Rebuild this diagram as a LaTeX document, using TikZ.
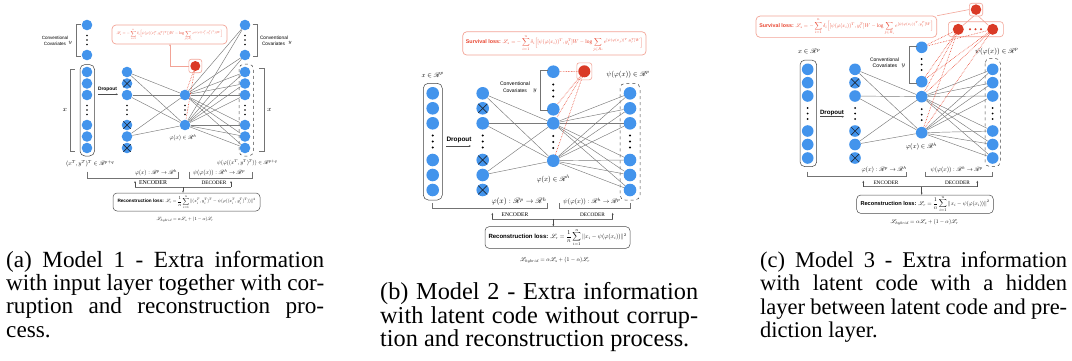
\documentclass[tikz,border=0pt]{standalone}
\usepackage{amsmath}
\usepackage{mathrsfs}
\usepackage{graphicx}
\usepackage{fontspec}
\setmainfont{Liberation Serif}
\newfontfamily\hel{Liberation Sans}
\usetikzlibrary{arrows.meta}
\definecolor{nblue}{HTML}{4394EC}
\definecolor{nred}{HTML}{DA3A26}
\definecolor{lred}{HTML}{E8442F}
\definecolor{lbox}{HTML}{F2A396}
\definecolor{xcol}{HTML}{1E2B3C}
\definecolor{lgray}{HTML}{7A7A7A}
\newcommand{\vdts}[4]{\foreach \k in {0,1,2}{\fill (#1,#2-#3+\k*#3) circle (#4pt);}}
\newcommand{\capJ}[5]{\node[inner sep=0pt,anchor=base west] at (#1,#2) {\fontsize{#3}{#3}\selectfont\makebox[#4pt][s]{#5}};}
\newcommand{\capN}[4]{\node[inner sep=0pt,anchor=base west] at (#1,#2) {\fontsize{#3}{#3}\selectfont #4};}
\newcommand{\fw}[2]{\resizebox{#1pt}{!}{#2}}
\newcommand{\survA}{$\displaystyle\mathscr{L}_s=-\sum_{i=1}^{n}\delta_i\Big[\psi(\varphi((x_i^T,y_i^T)^T))W-\log\sum_{j\in R_i}e^{\psi(\varphi((x_j^T,y_j^T)^T))W}\Big]$}
\newcommand{\survB}{{\hel\bfseries Survival loss:} $\displaystyle\mathscr{L}_s=-\sum_{i=1}^{n}\delta_i\Big[[\psi(\varphi(x_i))^T,y_i^T]W-\log\sum_{j\in R_i}e^{[\psi(\varphi(x_j))^T,y_j^T]W}\Big]$}
\newcommand{\recA}{{\hel\bfseries Reconstruction loss:} $\displaystyle\mathscr{L}_r=\frac{1}{n}\sum_{i=1}^{n}\|(x_i^T,y_i^T)^T-\psi(\varphi((x_i^T,y_i^T)^T))\|^2$}
\newcommand{\recB}{{\hel\bfseries Reconstruction loss:} $\displaystyle\mathscr{L}_r=\frac{1}{n}\sum_{i=1}^{n}\|x_i-\psi(\varphi(x_i))\|^2$}
\newcommand{\hyb}{$\mathscr{L}_{hybrid}=\alpha\mathscr{L}_s+(1-\alpha)\mathscr{L}_r$}
\tikzset{
 nd/.style={circle,fill=nblue,inner sep=0pt,minimum size=#1},
 xnd/.style={nd=#1,path picture={\draw[xcol,line width=0.7pt] (path picture bounding box.north west)--(path picture bounding box.south east) (path picture bounding box.north east)--(path picture bounding box.south west);}},
 rnd/.style={circle,fill=nred,inner sep=0pt,minimum size=#1},
 conn/.style={draw=lgray,line width=0.45pt},
 rdot/.style={draw=lred,densely dotted,line width=0.6pt},
 rline/.style={draw=lbox,line width=0.6pt},
 lossbox/.style={draw=lbox,rounded corners=4pt,line width=0.7pt,inner sep=0pt},
 rbox/.style={draw=lbox,rounded corners=2.5pt,line width=0.6pt,inner sep=0pt},
 recbox/.style={draw=black!70,rounded corners=4pt,line width=0.5pt,inner sep=0pt},
 brk/.style={draw=black!55,line width=0.5pt},
 inbox/.style={draw=black!75,rounded corners=5pt,line width=0.5pt},
 outbox/.style={draw=black!75,dashed,rounded corners=5pt,line width=0.5pt},
 tn/.style={inner sep=0pt,outer sep=0pt},
 tip/.style={-{Stealth[length=2.2pt,width=1.8pt]},draw=black!70,line width=0.45pt},
 rtip/.style={-{Stealth[length=2.2pt,width=1.8pt]},draw=lbox,line width=0.6pt},
}
\begin{document}
\begin{tikzpicture}[x=1pt,y=-1pt]
\useasboundingbox (0,0) rectangle (1072,360);
% ================= PANEL A =================
\node[nd=10.6] (ay1) at (87,25) {};
\node[nd=10.6] (ay2) at (87,55) {};
\vdts{87}{40}{4.5}{0.9}
\draw[inbox] (80,64.5) rectangle (94.5,156);
\node[nd=10.6] (ai1) at (87,72) {};
\node[nd=10.6] (ai2) at (87,83.5) {};
\node[nd=10.6] (ai3) at (87,95) {};
\node[nd=10.6] (ai4) at (87,125) {};
\node[nd=10.6] (ai5) at (87,136.5) {};
\node[nd=10.6] (ai6) at (87,148) {};
\vdts{87}{110}{4.5}{0.9}
\node[nd=10.6] (ad1) at (127,72) {};
\node[xnd=10.6] (ad2) at (127,83.5) {};
\node[nd=10.6] (ad3) at (127,95) {};
\node[xnd=10.6] (ad4) at (127,125) {};
\node[nd=10.6] (ad5) at (127,136.5) {};
\node[xnd=10.6] (ad6) at (127,148) {};
\vdts{127}{110}{4.5}{0.9}
\node[nd=10.6] (ah1) at (185,95) {};
\node[nd=10.6] (ah2) at (185,125) {};
\vdts{185}{110}{4.5}{0.9}
\node[nd=10.6] (aoy1) at (245,25) {};
\node[nd=10.6] (aoy2) at (245,55) {};
\vdts{245}{40}{4.5}{0.9}
\draw[outbox] (239,64) rectangle (253.5,156);
\node[nd=10.6] (ao1) at (245,72) {};
\node[nd=10.6] (ao2) at (245,83.5) {};
\node[nd=10.6] (ao3) at (245,95) {};
\node[nd=10.6] (ao4) at (245,125) {};
\node[nd=10.6] (ao5) at (245,136.5) {};
\node[nd=10.6] (ao6) at (245,148) {};
\vdts{245}{110}{4.5}{0.9}
\foreach \s in {ad1,ad3,ad5} \foreach \t in {ah1,ah2} \draw[conn] (\s) -- (\t);
\foreach \s in {ah1,ah2} \foreach \t in {aoy1,aoy2,ao1,ao2,ao3,ao4,ao5,ao6} \draw[conn] (\s) -- (\t);
% red part
\node[lossbox,minimum width=115pt,minimum height=19pt] (aloss) at (169.5,34.5) {\color{lred}\fw{106}{\survA}};
\node[rbox,minimum width=13pt,minimum height=13.5pt] (arb) at (195.3,66) {};
\node[rnd=10] (ar) at (195.3,66) {};
\coordinate (ain) at (170,44);
\draw[rtip] (arb.west) -| (ain);
\draw[rdot] (ar) -- (ah1);
\draw[rdot] (ar) -- (ah2);
% brackets
\draw[brk] (80.5,24.5) -- (76.5,24.5) -- (76.5,56) -- (80.5,56);
\draw[brk] (74.5,69) -- (70.5,69) -- (70.5,151) -- (74.5,151);
\draw[brk] (252.5,24.5) -- (257,24.5) -- (257,56) -- (252.5,56);
\draw[brk] (259,68) -- (264,68) -- (264,151) -- (259,151);
\node[tn] at (55,37.5) {\fw{26.5}{\hel Conventional}};
\node[tn] at (55,43.5) {\fw{22}{\hel Covariates}};
\node[tn] at (70.3,43.3) {\fontsize{5}{5}\selectfont$y$};
\node[tn] at (274,37.5) {\fw{28}{\hel Conventional}};
\node[tn] at (273.5,43.5) {\fw{23}{\hel Covariates}};
\node[tn] at (290,43.3) {\fontsize{5}{5}\selectfont$y$};
\node[tn] at (65,110) {\fontsize{7}{7}\selectfont$x$};
\node[tn] at (269.5,110) {\fontsize{7}{7}\selectfont$x$};
\node[tn] at (107.5,89) {\fw{19}{\hel\bfseries Dropout}};
\coordinate (ada) at (98,94.3);
\coordinate (adb) at (118,94.3);
\draw[tip] (ada) -- (adb);
\node[tn] at (90,164) {\fw{48}{$(x^T,y^T)^T\in\mathscr{R}^{p+q}$}};
\node[tn] at (247,163) {\fw{60}{$\psi(\varphi((x^T,y^T)^T))\in\mathscr{R}^{p+q}$}};
\node[tn] at (183,138) {\fw{27}{$\varphi(x)\in\mathscr{R}^h$}};
\draw[brk] (87,171.5) -- (87,178) -- (178,178) -- (178,171.5);
\node[tn] at (156,172.5) {\fw{42}{$\varphi(x):\mathscr{R}^p\rightarrow\mathscr{R}^h$}};
\draw[brk] (189,171.5) -- (189,178) -- (252,178) -- (252,171.5);
\node[tn] at (219,172.5) {\fw{52}{$\psi(\varphi(x)):\mathscr{R}^h\rightarrow\mathscr{R}^p$}};
\node[tn] at (153,183) {\fw{28}{ENCODER}};
\node[tn] at (214,183) {\fw{25}{DECODER}};
\node[recbox,minimum width=147pt,minimum height=18pt] (arec) at (186.5,202) {\fw{138}{\recA}};
\coordinate (aeL) at (135,187);
\coordinate (aeR) at (231,187);
\coordinate (aeM) at (183,187);
\draw[brk] (aeL) -- (aeR);
\draw[tip] (aeL) -- ++(0,-6);
\draw[tip] (aeR) -- ++(0,-6);
\draw[tip] (aeM) -- (aeM |- arec.north);
\node[tn] at (185,219.5) {\fw{57}{\hyb}};
% ================= PANEL B =================
\draw[inbox] (423.3,83.3) rectangle (442.3,200);
\node[nd=12.6] (bi1) at (432.7,93.3) {};
\node[nd=12.6] (bi2) at (432.7,108.3) {};
\node[nd=12.6] (bi3) at (432.7,123.3) {};
\node[nd=12.6] (bi4) at (432.7,160) {};
\node[nd=12.6] (bi5) at (432.7,175) {};
\node[nd=12.6] (bi6) at (432.7,190) {};
\vdts{432.7}{141.5}{6}{1.1}
\node[nd=12.6] (bd1) at (482.7,93.3) {};
\node[xnd=12.6] (bd2) at (482.7,108.3) {};
\node[nd=12.6] (bd3) at (482.7,123.3) {};
\node[xnd=12.6] (bd4) at (482.7,160) {};
\node[nd=12.6] (bd5) at (482.7,175) {};
\node[xnd=12.6] (bd6) at (482.7,190) {};
\vdts{482.7}{141.5}{6}{1.1}
\node[nd=12.6] (by1) at (553.3,71.7) {};
\node[nd=12.6] (by2) at (553.3,109.3) {};
\vdts{553.3}{90.5}{6}{1.1}
\node[nd=12.6] (bh1) at (553.3,123.3) {};
\node[nd=12.6] (bh2) at (553.3,160.7) {};
\vdts{553.3}{142}{6}{1.1}
\draw[outbox] (620,83.3) rectangle (640,200);
\node[nd=12.6] (bo1) at (630,93.3) {};
\node[nd=12.6] (bo2) at (630,108.3) {};
\node[nd=12.6] (bo3) at (630,123.3) {};
\node[nd=12.6] (bo4) at (630,160) {};
\node[nd=12.6] (bo5) at (630,175) {};
\node[nd=12.6] (bo6) at (630,190) {};
\vdts{630}{141.5}{6}{1.1}
\foreach \s in {bd1,bd3,bd5} \foreach \t in {bh1,bh2} \draw[conn] (\s) -- (\t);
\foreach \s in {bh1,bh2} \foreach \t in {bo1,bo2,bo3,bo4,bo5,bo6} \draw[conn] (\s) -- (\t);
\node[lossbox,minimum width=183.3pt,minimum height=23.3pt] (bloss) at (554.4,43.4) {\color{lred}\fw{177}{\survB}};
\node[rbox,minimum width=15pt,minimum height=17pt] (brb) at (584.3,71.3) {};
\node[rnd=12] (br) at (584.3,71.3) {};
\foreach \t in {by1,by2,bh1,bh2} \draw[rdot] (br) -- (\t);
\draw[brk] (548,70.7) -- (540.7,70.7) -- (540.7,110) -- (548,110);
\node[tn] at (515,83.7) {\fw{30}{\hel Conventional}};
\node[tn] at (515,90.7) {\fw{24}{\hel Covariates}};
\node[tn] at (535,91) {\fontsize{6.5}{6.5}\selectfont$y$};
\node[tn] at (432.5,75) {\fw{22}{$x\in\mathscr{R}^p$}};
\node[tn] at (628,74.3) {\fw{43}{$\psi(\varphi(x))\in\mathscr{R}^p$}};
\node[tn] at (553.3,179.3) {\fw{33}{$\varphi(x)\in\mathscr{R}^h$}};
\node[tn] at (459,140) {\fw{25}{\hel\bfseries Dropout}};
\coordinate (bda) at (446,146);
\coordinate (bdb) at (471,146);
\draw[tip] (bda) -- (bdb);
\draw[brk] (432.7,203) -- (432.7,208.3) -- (547.3,208.3) -- (547.3,203);
\node[tn] at (519,201.5) {\fw{55}{$\varphi(x):\mathscr{R}^p\rightarrow\mathscr{R}^h$}};
\draw[brk] (559.3,203) -- (559.3,208.3) -- (630,208.3) -- (630,203);
\node[tn] at (591.7,201.5) {\fw{57}{$\psi(\varphi(x)):\mathscr{R}^h\rightarrow\mathscr{R}^p$}};
\node[tn] at (515,214.7) {\fw{26.6}{ENCODER}};
\node[tn] at (592.5,214.7) {\fw{25}{DECODER}};
\node[recbox,minimum width=145pt,minimum height=21.6pt] (brec) at (557.5,237.5) {\fw{138}{\recB}};
\coordinate (beL) at (492.3,219.3);
\coordinate (beR) at (612.7,219.3);
\coordinate (beM) at (553.3,219.3);
\draw[brk] (beL) -- (beR);
\draw[tip] (beL) -- ++(0,-6.5);
\draw[tip] (beR) -- ++(0,-6.5);
\draw[tip] (beM) -- (beM |- brec.north);
\node[tn] at (555,260) {\fw{70}{\hyb}};
% ================= PANEL C =================
\draw[inbox] (800,60) rectangle (816.7,166.7);
\node[nd=11.6] (ci1) at (807.7,69.3) {};
\node[nd=11.6] (ci2) at (807.7,82.7) {};
\node[nd=11.6] (ci3) at (807.7,96) {};
\node[nd=11.6] (ci4) at (807.7,131) {};
\node[nd=11.6] (ci5) at (807.7,144.5) {};
\node[nd=11.6] (ci6) at (807.7,158) {};
\vdts{807.7}{113.5}{5.5}{1}
\node[nd=11.6] (cd1) at (855,69.3) {};
\node[xnd=11.6] (cd2) at (855,82.7) {};
\node[nd=11.6] (cd3) at (855,96) {};
\node[xnd=11.6] (cd4) at (855,131) {};
\node[nd=11.6] (cd5) at (855,144.5) {};
\node[xnd=11.6] (cd6) at (855,158) {};
\vdts{855}{113.5}{5.5}{1}
\node[nd=11.6] (cy1) at (921.7,47.3) {};
\node[nd=11.6] (cy2) at (921.7,81.7) {};
\vdts{921.7}{64.5}{5.5}{1}
\node[nd=11.6] (ch1) at (921.7,96.7) {};
\node[nd=11.6] (ch2) at (921.7,132.7) {};
\vdts{921.7}{114.7}{5.5}{1}
\draw[outbox] (985,58.3) rectangle (1000.3,166.7);
\node[nd=11.6] (co1) at (992.7,69.3) {};
\node[nd=11.6] (co2) at (992.7,82.7) {};
\node[nd=11.6] (co3) at (992.7,96) {};
\node[nd=11.6] (co4) at (992.7,131) {};
\node[nd=11.6] (co5) at (992.7,144.5) {};
\node[nd=11.6] (co6) at (992.7,158) {};
\vdts{992.7}{113.5}{5.5}{1}
\foreach \s in {cd1,cd3,cd5} \foreach \t in {ch1,ch2} \draw[conn] (\s) -- (\t);
\foreach \s in {ch1,ch2} \foreach \t in {co1,co2,co3,co4,co5,co6} \draw[conn] (\s) -- (\t);
\node[lossbox,minimum width=180.7pt,minimum height=21.3pt] (closs) at (846.4,26.7) {\color{lred}\fw{174}{\survB}};
\node[rbox,minimum width=13.4pt,minimum height=12.7pt] (ctb) at (976,9.6) {};
\node[rnd=10.5] (ct) at (976,9.6) {};
\node[rbox,rounded corners=3pt,minimum width=55pt,minimum height=15pt] (crb) at (975.8,29.2) {};
\node[rnd=11] (cr1) at (958.3,29.3) {};
\node[rnd=11] (cr2) at (992.7,29.3) {};
\foreach \x in {970,975.5,981} \fill[nred] (\x,29.3) circle (1.1pt);
\draw[rline] (closs.north east) -- (ctb.west);
\draw[rline] (ctb.250) -- (cr1);
\draw[rline] (ctb.290) -- (cr2);
\foreach \s in {cr1,cr2} \foreach \t in {cy1,cy2,ch1,ch2} \draw[rdot] (\s) -- (\t);
\draw[brk] (916.7,46.7) -- (909.3,46.7) -- (909.3,83.3) -- (916.7,83.3);
\node[tn] at (884.5,59.3) {\fw{29}{\hel Conventional}};
\node[tn] at (885,66) {\fw{24.6}{\hel Covariates}};
\node[tn] at (903.3,66.2) {\fontsize{6}{6}\selectfont$y$};
\node[tn] at (809,51.7) {\fw{22}{$x\in\mathscr{R}^p$}};
\node[tn] at (996.7,51.7) {\fw{43}{$\psi(\varphi(x))\in\mathscr{R}^p$}};
\node[tn] at (921.3,146.7) {\fw{31}{$\varphi(x)\in\mathscr{R}^h$}};
\node[tn] at (832,112.7) {\fw{24}{\hel\bfseries Dropout}};
\coordinate (cda) at (820,116.7);
\coordinate (cdb) at (844,116.7);
\draw[tip] (cda) -- (cdb);
\draw[brk] (807.7,171.5) -- (807.7,176) -- (906.7,176) -- (906.7,171.5);
\node[tn] at (884,170) {\fw{45}{$\varphi(x):\mathscr{R}^p\rightarrow\mathscr{R}^h$}};
\draw[brk] (925.7,171.5) -- (925.7,176) -- (992.7,176) -- (992.7,171.5);
\node[tn] at (956.7,170) {\fw{52}{$\psi(\varphi(x)):\mathscr{R}^h\rightarrow\mathscr{R}^p$}};
\node[tn] at (886,182.7) {\fw{25}{ENCODER}};
\node[tn] at (957.5,182.7) {\fw{25}{DECODER}};
\node[recbox,minimum width=136.6pt,minimum height=18.3pt] (crec) at (925,204.2) {\fw{129}{\recB}};
\coordinate (ceL) at (863.3,186.7);
\coordinate (ceR) at (977.3,186.7);
\coordinate (ceM) at (921.7,186.7);
\draw[brk] (ceL) -- (ceR);
\draw[tip] (ceL) -- ++(0,-6);
\draw[tip] (ceR) -- ++(0,-6);
\draw[tip] (ceM) -- (ceM |- crec.north);
\node[tn] at (924.5,222) {\fw{68}{\hyb}};
% ================= CAPTIONS =================
\capJ{6}{267}{23.2}{318}{(a) Model 1 - Extra information}
\capJ{6}{290.5}{23.2}{318}{with input layer together with cor-}
\capJ{6}{313.5}{23.2}{318}{ruption and reconstruction pro-}
\capN{6}{337}{23.2}{cess.}
\capJ{380}{299.5}{24.3}{318}{(b) Model 2 - Extra information}
\capJ{380}{323}{24.3}{318}{with latent code without corrup-}
\capN{380}{346.5}{24.3}{tion and reconstruction process.}
\capJ{760}{267.5}{22.5}{307}{(c) Model 3 - Extra information}
\capJ{760}{290.8}{22.5}{307}{with latent code with a hidden}
\capJ{760}{314}{22.5}{307}{layer between latent code and pre-}
\capN{760}{337.3}{22.5}{diction layer.}
\end{tikzpicture}
\end{document}
